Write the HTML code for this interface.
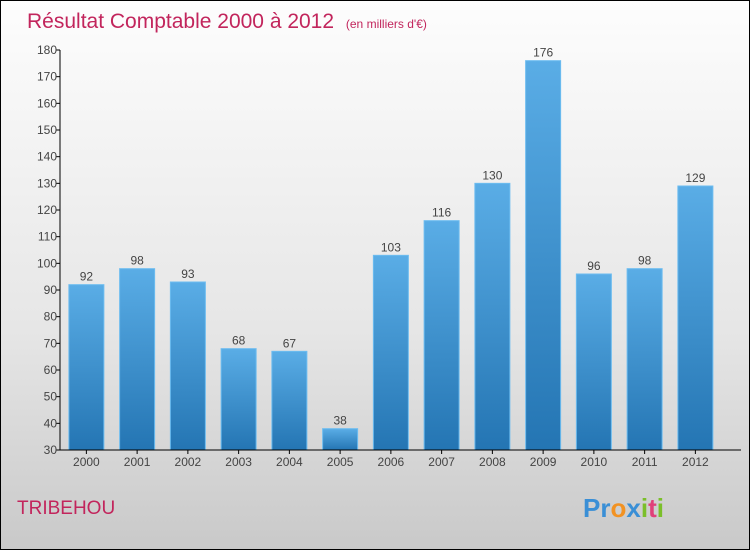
<!DOCTYPE html>
<html><head><meta charset="utf-8"><style>
body{margin:0;}
#wrap{position:relative;width:748px;height:548px;border:1px solid #000;background:linear-gradient(#fdfdfd,#e6e6e6 60%,#c9c9c9);overflow:hidden;font-family:"Liberation Sans",sans-serif;}
</style></head><body>
<div id="wrap">
<svg id="chart" width="748" height="548">
<defs><linearGradient id="bg" x1="0" y1="0" x2="0" y2="1"><stop offset="0" stop-color="#5aade6"/><stop offset="1" stop-color="#2475b3"/></linearGradient></defs>
<text x="26" y="27" font-size="21" fill="#c2255c">Résultat Comptable 2000 à 2012 <tspan font-size="12" dx="6">(en milliers d'€)</tspan></text>
<text x="16" y="513" font-size="19" fill="#c2255c">TRIBEHOU</text>
<text x="582" y="516" font-size="26" font-weight="bold"><tspan fill="#3a8fd6">Pr</tspan><tspan fill="#f29222">o</tspan><tspan fill="#3a8fd6">x</tspan><tspan fill="#7bbf2a">i</tspan><tspan fill="#e0407a">t</tspan><tspan fill="#7bbf2a">i</tspan></text>
<g id="plot"></g>
</svg>
</div>
<script>
const categories=["2000","2001","2002","2003","2004","2005","2006","2007","2008","2009","2010","2011","2012"];
const values=[92,98,93,68,67,38,103,116,130,176,96,98,129];
const yTicks=[30,40,50,60,70,80,90,100,110,120,130,140,150,160,170,180];
const ns="http://www.w3.org/2000/svg";
const g=document.getElementById("plot");
const x0=59,yMin=30,yMax=180,yTop=49,yBot=449,slot=50.75,bw=35;
const y=v=>yBot-(v-yMin)/(yMax-yMin)*(yBot-yTop);
const xc=i=>x0+slot/2+i*slot+1;
function mk(t,a){const e=document.createElementNS(ns,t);for(const k in a)e.setAttribute(k,a[k]);g.appendChild(e);return e;}
values.forEach((v,i)=>{
 const r=mk("rect",{x:xc(i)-bw/2,y:y(v),width:bw,height:yBot-y(v),fill:"url(#bg)",stroke:"#6cbcf0","stroke-width":1});
 
 
 const t=mk("text",{x:xc(i),y:y(v)-4,"text-anchor":"middle","font-size":12,fill:"#444"});t.textContent=v;
 
 
 const c=mk("text",{x:xc(i),y:yBot+16,"text-anchor":"middle","font-size":12,fill:"#444"});c.textContent=categories[i];
 
 
 mk("line",{x1:xc(i),x2:xc(i),y1:yBot,y2:yBot+4,stroke:"#000"});
});
yTicks.forEach(v=>{
 mk("line",{x1:x0-4,x2:x0,y1:y(v),y2:y(v),stroke:"#000"});
 const t=mk("text",{x:x0-3,y:y(v)+4,"text-anchor":"end","font-size":12,fill:"#444"});t.textContent=v;
 
 
});
const ya=mk("line",{x1:x0,x2:x0,y1:yTop,y2:yBot,stroke:"#000"});


const xa=mk("line",{x1:x0,x2:740,y1:yBot,y2:yBot,stroke:"#000"});


</script>
</body></html>
